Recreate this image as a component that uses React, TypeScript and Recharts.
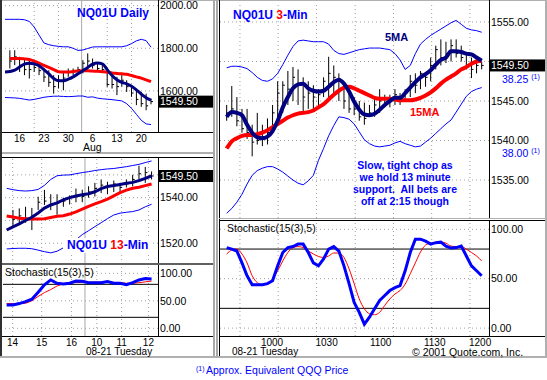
import React from "react";
import { ComposedChart, Line, XAxis, YAxis, ReferenceLine } from "recharts";

const FONT = "Arial, 'Liberation Sans', sans-serif";
const BLUE = "#0000ff";
const NAVY = "#000080";
const RED = "#ff0000";
const GRID = "#a0a0a0";
const LAST_PRICE = 1549.5;

// ---------- daily ----------
const dailyTickIdx = [3, 8, 13, 18, 23, 28];
const dailyTickLabels = ["16", "23", "30", "6", "13", "20"];
const dailyGridIdx = [6, 11, 21, 26];
const dailyMonthBreak = 15.75;
const dailyHigh = [null, 1791, 1791, 1760, 1752, 1744, 1736, 1729, 1705, 1697, 1674, 1674, 1689, 1705, 1705, 1713, 1744, 1776, 1752, 1729, 1721, 1689, 1674, 1666, 1682, 1650, 1627, 1603, 1595, 1587, 1564];
const dailyLow = [null, 1705, 1721, 1689, 1674, 1658, 1689, 1674, 1642, 1619, 1587, 1611, 1603, 1666, 1674, 1689, 1682, 1713, 1705, 1697, 1689, 1619, 1611, 1580, 1619, 1595, 1572, 1533, 1525, 1509, 1537];
const dailyClose = [null, 1740, 1760, 1720, 1700, 1700, 1710, 1695, 1665, 1640, 1620, 1650, 1660, 1690, 1690, 1700, 1730, 1740, 1720, 1705, 1700, 1630, 1630, 1620, 1650, 1620, 1590, 1560, 1540, 1530, 1550];
const dailyMa5 = [1689, 1691, 1697, 1712, 1726, 1730, 1727, 1718, 1700, 1680, 1658, 1648, 1648, 1655, 1666, 1680, 1695, 1710, 1726, 1731, 1727, 1700, 1672, 1652, 1640, 1633, 1622, 1605, 1585, 1568, 1556];
const dailyMa15 = [null, 1752, 1752, 1752, 1750, 1747, 1740, 1730, 1720, 1710, 1700, 1690, 1689, 1689, 1691, 1693, 1694, 1694, 1693, 1692, 1690, 1688, 1684, 1682, 1680, 1678, 1672, 1666, 1660, 1652, 1643];
const dailyUpper = [1936, 1936, 1936, 1936, 1934, 1926, 1900, 1862, 1825, 1817, 1812, 1809, 1807, 1807, 1800, 1790, 1792, 1799, 1806, 1807, 1807, 1807, 1807, 1807, 1807, 1812, 1822, 1835, 1842, 1836, 1805];
const dailyLower = [1569, 1568, 1567, 1565, 1561, 1557, 1560, 1565, 1570, 1573, 1575, 1575, 1574, 1573, 1574, 1576, 1576, 1570, 1572, 1566, 1563, 1561, 1559, 1556, 1553, 1540, 1518, 1490, 1462, 1445, 1442];

// ---------- 13 minute ----------
const m13TickIdx = [0.95, 5.56, 10.3, 14.3, 18.25, 22.5];
const m13TickLabels = ["14", "15", "16", "10", "11", "12"];
const m13DayBreak = 12.43;
const m13High = [null, 1534.6, 1535.3, 1536, 1535.5, 1540.4, 1543.4, 1541.5, 1541.5, 1540, 1541, 1544, 1543.5, 1545, 1546.5, 1548, 1547, 1547.5, 1546.5, 1548, 1550, 1554, 1553.5, 1551.5];
const m13Low = [null, 1527.3, 1528.7, 1529, 1525.8, 1534.6, 1536.8, 1534.5, 1532.5, 1536, 1537, 1538, 1538, 1540, 1540.5, 1542, 1541.5, 1542.5, 1542, 1544.5, 1545, 1547, 1546.5, 1548];
const m13Close = [null, 1530.5, 1532, 1531, 1532, 1538, 1538.5, 1537, 1537.5, 1538.5, 1540, 1541, 1540.5, 1542.5, 1544, 1545.5, 1545, 1546, 1544.5, 1546, 1548, 1550.5, 1551, 1549.5];
const m13Ma5 = [1525.8, 1527.2, 1528.5, 1530.0, 1531.4, 1533.3, 1535.4, 1536.8, 1537.7, 1539.0, 1540.0, 1540.7, 1541.3, 1541.7, 1542.6, 1544.0, 1544.9, 1545.3, 1545.8, 1546.3, 1546.7, 1547.5, 1548.5, 1549.6];
const m13Ma15 = [1532.0, 1531.5, 1531.0, 1530.8, 1530.6, 1530.6, 1530.8, 1531.3, 1531.8, 1532.1, 1532.8, 1533.8, 1535.0, 1536.2, 1537.3, 1538.3, 1539.4, 1540.8, 1542.2, 1543.3, 1544.1, 1544.6, 1545.3, 1546.0];
const m13Upper = [1544.1, 1543.5, 1543.1, 1542.9, 1543.1, 1543.6, 1545.4, 1548.0, 1549.6, 1549.9, 1550.0, 1550.5, 1551.0, 1551.4, 1551.9, 1552.3, 1552.6, 1552.8, 1553.2, 1553.6, 1554.1, 1554.6, 1555.4, 1556.1];
const m13Lower = [1517.5, 1517.7, 1517.8, 1517.8, 1517.6, 1517.0, 1516.3, 1515.8, 1516.5, 1518.0, 1519.5, 1521.5, 1523.8, 1525.5, 1527.3, 1529.0, 1530.8, 1532.4, 1533.2, 1533.6, 1533.9, 1534.6, 1536.0, 1537.1];
const m13StochK = [42.4, 42.4, 45, 48.5, 53, 65.5, 79, 88, 82, 80.5, 82, 86, 85.5, 83, 83, 83, 85, 82, 82, 79.5, 83, 88, 90.5, 89.6];
const m13StochD = [45, 45, 45, 45.5, 50, 58, 65, 70.5, 77, 81, 83, 83.3, 83.6, 83.8, 84, 84, 84, 83.5, 83, 82, 82, 83, 84.5, 86];

// ---------- 3 minute ----------
const m3TickIdx = [8.9, 19.6, 30.2, 40.8, 49.7];
const m3TickLabels = ["1000", "1030", "1100", "1130", "1200"];
const m3GridIdx = [2.6, 10.1, 17.6, 25.2, 32.7, 40.2, 47.7];
const m3High = [1544.5, 1546.9, 1545.5, 1544.0, 1544.0, 1542.0, 1543.5, 1542.0, 1542.8, 1544.5, 1547.5, 1547.5, 1548.8, 1549.3, 1549.0, 1548.0, 1547.5, 1547.0, 1546.5, 1548.0, 1550.6, 1549.5, 1548.5, 1547.0, 1546.0, 1545.5, 1545.0, 1544.8, 1544.5, 1545.5, 1546.5, 1545.8, 1545.8, 1546.5, 1546.0, 1546.5, 1548.3, 1548.5, 1548.8, 1548.5, 1550.5, 1552.0, 1552.8, 1552.5, 1552.8, 1552.8, 1552.0, 1551.0, 1550.5, 1550.2, 1550.0];
const m3Low = [1542.5, 1543.0, 1541.8, 1541.0, 1540.2, 1538.0, 1539.5, 1539.3, 1539.5, 1541.0, 1542.5, 1543.5, 1544.5, 1545.0, 1544.5, 1543.5, 1544.0, 1543.8, 1544.5, 1545.5, 1545.0, 1546.0, 1545.0, 1544.0, 1543.5, 1543.2, 1542.5, 1542.0, 1543.0, 1543.0, 1543.5, 1544.5, 1544.2, 1544.5, 1544.5, 1545.0, 1545.5, 1546.0, 1546.5, 1546.8, 1547.5, 1549.0, 1549.5, 1549.8, 1550.0, 1550.5, 1550.0, 1549.0, 1547.9, 1548.5, 1549.0];
const m3Close = [1543.5, 1544.0, 1542.5, 1541.5, 1541.0, 1539.8, 1540.0, 1540.5, 1541.0, 1543.5, 1546.0, 1547.0, 1546.5, 1548.0, 1547.0, 1545.5, 1546.0, 1545.5, 1545.8, 1547.5, 1548.5, 1548.0, 1546.5, 1545.0, 1544.0, 1544.0, 1543.0, 1542.8, 1543.5, 1544.5, 1545.0, 1545.2, 1545.0, 1545.8, 1545.0, 1546.0, 1547.5, 1547.0, 1548.5, 1548.0, 1549.5, 1551.5, 1550.5, 1551.0, 1552.0, 1551.0, 1550.5, 1549.5, 1549.0, 1549.5, 1549.5];
const m3Ma5 = [1543.0, 1543.6, 1543.5, 1543.2, 1542.0, 1541.0, 1540.4, 1540.3, 1540.5, 1541.2, 1542.5, 1544.2, 1545.5, 1546.6, 1547.1, 1547.2, 1546.6, 1546.3, 1546.2, 1546.3, 1546.8, 1547.4, 1547.7, 1547.2, 1546.2, 1544.9, 1543.9, 1543.3, 1543.2, 1543.4, 1543.9, 1544.5, 1545.0, 1545.4, 1545.4, 1546.0, 1546.7, 1547.4, 1548.0, 1548.4, 1548.9, 1549.6, 1550.2, 1550.5, 1551.3, 1551.3, 1551.2, 1551.0, 1550.9, 1550.5, 1550.1];
const m3Ma15 = [1539.0, 1539.9, 1540.3, 1540.6, 1540.7, 1540.7, 1540.8, 1541.0, 1541.3, 1541.7, 1542.1, 1542.5, 1542.9, 1543.2, 1543.4, 1543.5, 1543.6, 1543.8, 1544.2, 1544.6, 1545.2, 1545.8, 1546.3, 1546.7, 1546.8, 1546.6, 1546.3, 1546.0, 1545.7, 1545.4, 1545.3, 1545.3, 1545.3, 1545.2, 1545.1, 1545.1, 1545.1, 1545.2, 1545.4, 1545.7, 1546.1, 1546.6, 1547.2, 1547.7, 1548.1, 1548.5, 1549.0, 1549.3, 1549.7, 1550.0, 1550.1];
const m3Upper = [1549.2, 1549.4, 1549.4, 1549.3, 1549.1, 1548.6, 1548.0, 1547.6, 1547.5, 1547.8, 1548.5, 1549.6, 1550.8, 1551.9, 1552.6, 1552.7, 1552.6, 1552.5, 1552.5, 1552.5, 1552.2, 1551.4, 1551.0, 1550.9, 1551.1, 1551.3, 1551.5, 1551.6, 1551.7, 1551.7, 1551.7, 1551.6, 1551.5, 1551.0, 1550.2, 1549.0, 1549.5, 1551.0, 1552.2, 1552.8, 1553.3, 1553.7, 1554.1, 1554.5, 1554.9, 1555.2, 1554.7, 1554.2, 1554.0, 1553.9, 1553.7];
const m3Lower = [1530.8, 1531.4, 1532.2, 1533.2, 1534.5, 1535.6, 1536.2, 1536.5, 1536.7, 1536.7, 1536.4, 1536.0, 1535.5, 1535.0, 1534.6, 1534.4, 1534.9, 1535.6, 1537.5, 1539.0, 1540.6, 1541.9, 1543.0, 1542.9, 1542.7, 1542.1, 1541.1, 1540.1, 1539.6, 1539.3, 1539.2, 1539.3, 1539.4, 1539.7, 1539.9, 1539.6, 1539.4, 1539.2, 1539.3, 1539.8, 1540.3, 1540.9, 1541.5, 1542.1, 1542.6, 1543.6, 1544.6, 1545.6, 1546.2, 1546.5, 1546.7];
const m3StochK = [81.5, 80, 78, 66, 53, 44, 44, 44, 45, 48, 63, 76.5, 81.5, 82.5, 85, 85, 76.5, 66, 63, 70, 80, 82.5, 78, 63, 45, 26, 16, 4, 11, 19.5, 28, 33, 38, 41, 43, 58, 76.5, 90, 90, 88, 85, 86.5, 87, 83, 81, 81.5, 83, 73, 63, 58, 53];
const m3StochD = [75, 79, 80, 75, 66, 53, 46, 44, 45, 50, 58, 68, 76.5, 81.5, 82.5, 81.5, 78, 75, 72.5, 71.5, 73, 76, 76, 71.5, 60, 45, 29.5, 19.5, 14.5, 13.5, 16, 23, 29.5, 34.5, 38, 44.5, 55, 66, 77, 84, 86, 86.5, 87, 86, 83, 82.5, 82.5, 80, 76.5, 73, 68];

// QQQ equivalents shown beside the 3-min price scale
const qqqPrices = [1547.7, 1538.4];
const qqqLabels = ["38.25", "38.00"];

function toRows(cols: Record<string, (number | null)[]>) {
  const keys = Object.keys(cols);
  return cols[keys[0]].map((_, i) => {
    const r: Record<string, number | null> = { i };
    keys.forEach((k) => (r[k] = cols[k][i]));
    return r;
  });
}

const dailyRows = toRows({ ma5: dailyMa5, ma15: dailyMa15, up: dailyUpper, lo: dailyLower });
const m13Rows = toRows({ ma5: m13Ma5, ma15: m13Ma15, up: m13Upper, lo: m13Lower });
const m13StochRows = toRows({ k: m13StochK, d: m13StochD });
const m3Rows = toRows({ ma5: m3Ma5, ma15: m3Ma15, up: m3Upper, lo: m3Lower });
const m3StochRows = toRows({ k: m3StochK, d: m3StochD });

const hGrid = (vals: number[]) =>
  vals.map((v) => <ReferenceLine key={"h" + v} y={v} stroke={GRID} strokeDasharray="1 3" />);
const vGrid = (vals: number[]) =>
  vals.map((v) => <ReferenceLine key={"v" + v} x={v} stroke={GRID} strokeDasharray="1 3" />);

function hlcBars(hi: (number | null)[], lo: (number | null)[], cl: (number | null)[], tick: number) {
  const out: React.ReactElement[] = [];
  hi.forEach((h, i) => {
    if (h == null) return;
    out.push(
      <ReferenceLine key={"b" + i} segment={[{ x: i, y: lo[i] as number }, { x: i, y: h }]} stroke="#000" strokeWidth={1} />
    );
    out.push(
      <ReferenceLine key={"c" + i} segment={[{ x: i, y: cl[i] as number }, { x: i + tick, y: cl[i] as number }]} stroke="#000" strokeWidth={1} />
    );
  });
  return out;
}

const txt = { fontFamily: FONT, fontSize: 10.5 };

const priceTick = (withQqq: boolean) => (p: any) => {
  const v = p.payload.value;
  if (v === LAST_PRICE) {
    return (
      <g>
        <rect x={p.x - 1} y={p.y - 6} width={58} height={12} fill="#000" />
        <text x={p.x} y={p.y} dy="0.36em" fill="#fff" {...txt}>{v.toFixed(2)}</text>
      </g>
    );
  }
  const qi = withQqq ? qqqPrices.indexOf(v) : -1;
  if (qi >= 0) {
    return (
      <text x={p.x + 11} y={p.y} dy="0.36em" fill={BLUE} {...txt}>
        {qqqLabels[qi]}
        <tspan fontSize={7} dx={3} dy={-4}>(1)</tspan>
      </text>
    );
  }
  return <text x={p.x} y={p.y} dy="0.36em" fill="#000" {...txt}>{v.toFixed(2)}</text>;
};

const xTick = (idx: number[], labels: string[], dy: number) => (p: any) => {
  const k = idx.indexOf(p.payload.value);
  return (
    <text x={p.x} y={p.y + dy} textAnchor="middle" fill="#000" fontFamily={FONT} fontSize={10}>{labels[k]}</text>
  );
};

const lineBase = { dot: false, activeDot: false, isAnimationActive: false } as const;

const yAxisProps = { orientation: "right" as const, type: "number" as const, allowDataOverflow: true, interval: 0, tickLine: false, axisLine: false, tickSize: 0, tickMargin: 2 };

function Box({ l, t, w, h, c }: { l: number; t: number; w: number; h: number; c: string }) {
  return <div style={{ position: "absolute", left: l, top: t, width: w, height: h, background: c }} />;
}

function Txt({ l, t, size = 10.5, color = "#000", bold = false, children, style }: any) {
  return (
    <div style={{ position: "absolute", left: l, top: t, fontSize: size, lineHeight: size + "px", color, fontWeight: bold ? "bold" : "normal", whiteSpace: "pre", ...style }}>
      {children}
    </div>
  );
}

export default function App() {
  return (
    <div style={{ position: "absolute", left: 0, top: 0, width: 547, height: 380, background: "#fff", overflow: "hidden", fontFamily: FONT }}>
      {/* daily */}
      <div style={{ position: "absolute", left: 0, top: 0 }}>
        <ComposedChart width={215} height={153} data={dailyRows} margin={{ top: 1, right: 0, bottom: 0, left: 3 }}>
          <XAxis type="number" dataKey="i" domain={[-0.41, 31.44]} allowDataOverflow ticks={dailyTickIdx} interval={0}
            tick={xTick(dailyTickIdx, dailyTickLabels, 9.7)} tickLine={false} axisLine={false} tickSize={0} tickMargin={0} height={21} />
          <YAxis {...yAxisProps} width={57} domain={[1407, 2022]} ticks={[1600, 1800, 2000, LAST_PRICE]} tick={priceTick(false)} />
          {hGrid([1600, 1800, 2000])}
          {vGrid(dailyGridIdx)}
          <ReferenceLine x={dailyMonthBreak} stroke="#a8a8a8" />
          {hlcBars(dailyHigh, dailyLow, dailyClose, 0.42)}
          <Line {...lineBase} dataKey="up" stroke={BLUE} strokeWidth={1} type="linear" />
          <Line {...lineBase} dataKey="lo" stroke={BLUE} strokeWidth={1} type="linear" />
          <Line {...lineBase} dataKey="ma15" stroke={RED} strokeWidth={3} type="monotone" />
          <Line {...lineBase} dataKey="ma5" stroke={NAVY} strokeWidth={3} type="monotone" />
        </ComposedChart>
      </div>

      {/* 13 minute */}
      <div style={{ position: "absolute", left: 0, top: 158 }}>
        <ComposedChart width={215} height={106} data={m13Rows} margin={{ top: 0, right: 0, bottom: 0, left: 3 }}>
          <XAxis type="number" dataKey="i" domain={[-0.58, 24.02]} allowDataOverflow hide />
          <YAxis {...yAxisProps} width={57} domain={[1510.9, 1557.4]} ticks={[1520, 1540, LAST_PRICE]} tick={priceTick(false)} />
          {hGrid([1520, 1530, 1540, 1550])}
          {vGrid(m13TickIdx)}
          <ReferenceLine x={m13DayBreak} stroke="#a8a8a8" />
          {hlcBars(m13High, m13Low, m13Close, 0.33)}
          <Line {...lineBase} dataKey="up" stroke={BLUE} strokeWidth={1} type="linear" />
          <Line {...lineBase} dataKey="lo" stroke={BLUE} strokeWidth={1} type="linear" />
          <Line {...lineBase} dataKey="ma15" stroke={RED} strokeWidth={3} type="linear" />
          <Line {...lineBase} dataKey="ma5" stroke={NAVY} strokeWidth={3} type="linear" />
        </ComposedChart>
      </div>

      {/* 13 minute stochastic */}
      <div style={{ position: "absolute", left: 0, top: 264 }}>
        <ComposedChart width={215} height={92} data={m13StochRows} margin={{ top: 0, right: 0, bottom: 0, left: 3 }}>
          <XAxis type="number" dataKey="i" domain={[-0.58, 24.02]} allowDataOverflow ticks={m13TickIdx} interval={0}
            tick={xTick(m13TickIdx, m13TickLabels, 10)} tickLine={false} axisLine={false} tickSize={0} tickMargin={0} height={20} />
          <YAxis {...yAxisProps} width={57} domain={[-14, 117]} ticks={[0, 50, 100]} tick={priceTick(false)} />
          {hGrid([0, 50, 100])}
          {vGrid(m13TickIdx)}
          <ReferenceLine x={m13DayBreak} stroke="#a8a8a8" />
          <ReferenceLine y={80} stroke="#000" />
          <ReferenceLine y={20} stroke="#000" />
          <Line {...lineBase} dataKey="d" stroke={RED} strokeWidth={1} type="linear" />
          <Line {...lineBase} dataKey="k" stroke={BLUE} strokeWidth={3} type="linear" />
        </ComposedChart>
      </div>

      {/* 3 minute */}
      <div style={{ position: "absolute", left: 217, top: 0 }}>
        <ComposedChart width={330} height={219} data={m3Rows} margin={{ top: 3, right: 0, bottom: 1, left: 3 }}>
          <XAxis type="number" dataKey="i" domain={[-1.31, 51.44]} allowDataOverflow hide />
          <YAxis {...yAxisProps} width={58} domain={[1530.2, 1557.4]}
            ticks={[1535, 1540, 1545, 1555, LAST_PRICE, ...qqqPrices]} tick={priceTick(true)} />
          {hGrid([1535, 1540, 1545, 1550, 1555])}
          {vGrid(m3GridIdx)}
          {hlcBars(m3High, m3Low, m3Close, 0.4)}
          <Line {...lineBase} dataKey="up" stroke={BLUE} strokeWidth={1} type="linear" />
          <Line {...lineBase} dataKey="lo" stroke={BLUE} strokeWidth={1} type="linear" />
          <Line {...lineBase} dataKey="ma15" stroke={RED} strokeWidth={4} type="monotone" />
          <Line {...lineBase} dataKey="ma5" stroke={NAVY} strokeWidth={4} type="monotone" />
        </ComposedChart>
      </div>

      {/* 3 minute stochastic */}
      <div style={{ position: "absolute", left: 217, top: 220 }}>
        <ComposedChart width={330} height={136} data={m3StochRows} margin={{ top: 1, right: 0, bottom: 0, left: 3 }}>
          <XAxis type="number" dataKey="i" domain={[-1.31, 51.44]} allowDataOverflow ticks={m3TickIdx} interval={0}
            tick={xTick(m3TickIdx, m3TickLabels, 9.8)} tickLine={false} axisLine={false} tickSize={0} tickMargin={0} height={20} />
          <YAxis {...yAxisProps} width={58} domain={[-8, 108.4]} ticks={[0, 50, 100]} tick={priceTick(false)} />
          {hGrid([0, 50, 100])}
          {vGrid(m3GridIdx)}
          <ReferenceLine y={80} stroke="#000" />
          <ReferenceLine y={20} stroke="#000" />
          <Line {...lineBase} dataKey="d" stroke={RED} strokeWidth={1} type="monotone" />
          <Line {...lineBase} dataKey="k" stroke={BLUE} strokeWidth={3} type="linear" />
        </ComposedChart>
      </div>

      {/* frame */}
      <Box l={0} t={0} w={547} h={1} c="#b0b0b0" />
      <Box l={0} t={0} w={2} h={357} c="#303030" />
      <Box l={158} t={0} w={1} h={132} c="#000" />
      <Box l={2} t={132} w={213} h={1} c="#000" />
      <Box l={2} t={152} w={213} h={2} c="#b0b0b0" />
      <Box l={2} t={157} w={213} h={1} c="#000" />
      <Box l={158} t={158} w={1} h={106} c="#000" />
      <Box l={2} t={263} w={213} h={2} c="#606060" />
      <Box l={158} t={265} w={1} h={71} c="#000" />
      <Box l={2} t={336} w={213} h={1} c="#000" />
      <Box l={213} t={0} w={2} h={357} c="#a8a8a8" />
      <Box l={216} t={0} w={2} h={357} c="#a8a8a8" />
      <Box l={219} t={0} w={1} h={357} c="#000" />
      <Box l={489} t={0} w={1} h={218} c="#000" />
      <Box l={219} t={218} w={328} h={1} c="#b0b0b0" />
      <Box l={219} t={220} w={328} h={1} c="#000" />
      <Box l={489} t={221} w={1} h={115} c="#000" />
      <Box l={219} t={336} w={328} h={1} c="#000" />
      <Box l={545} t={0} w={2} h={357} c="#b0b0b0" />
      <Box l={0} t={356} w={547} h={2} c="#b0b0b0" />

      {/* titles and notes */}
      <Txt l={77} t={7} size={12} bold color={BLUE}>NQ01U Daily</Txt>
      <Txt l={63} t={238} size={12} bold color={BLUE} style={{ background: "#fff", padding: "1px 2px 2px 4px" }}>
        NQ01U <span style={{ color: RED }}>13</span>-Min
      </Txt>
      <Txt l={233} t={9} size={12} bold color={BLUE}>
        NQ01U <span style={{ color: RED }}>3</span>-Min
      </Txt>
      <Txt l={385} t={32} size={11} bold color={NAVY}>5MA</Txt>
      <Txt l={410} t={107} size={11} bold color={RED}>15MA</Txt>
      <div style={{ position: "absolute", left: 335, top: 158.5, width: 140, textAlign: "center", fontSize: 10.5, lineHeight: "12px", fontWeight: "bold", color: BLUE, whiteSpace: "pre" }}>
        {"Slow, tight chop as\nwe hold 13 minute\nsupport.  All bets are\noff at 2:15 though"}
      </div>
      <Txt l={5} t={267}>Stochastic(15(3),5)</Txt>
      <Txt l={227} t={223}>Stochastic(15(3),5)</Txt>
      <Txt l={83} t={142}>Aug</Txt>
      <Txt l={86} t={347} size={10}>08-21 Tuesday</Txt>
      <Txt l={232} t={347} size={10}>08-21 Tuesday</Txt>
      <Txt l={412} t={347} size={10.5} style={{ lineHeight: "10px" }}>© 2001 Quote.com, Inc.</Txt>
      <Txt l={196} t={365} size={7} color={BLUE}>(1)</Txt>
      <Txt l={206} t={364.5} color={BLUE}>Approx. Equivalent QQQ Price</Txt>
    </div>
  );
}
